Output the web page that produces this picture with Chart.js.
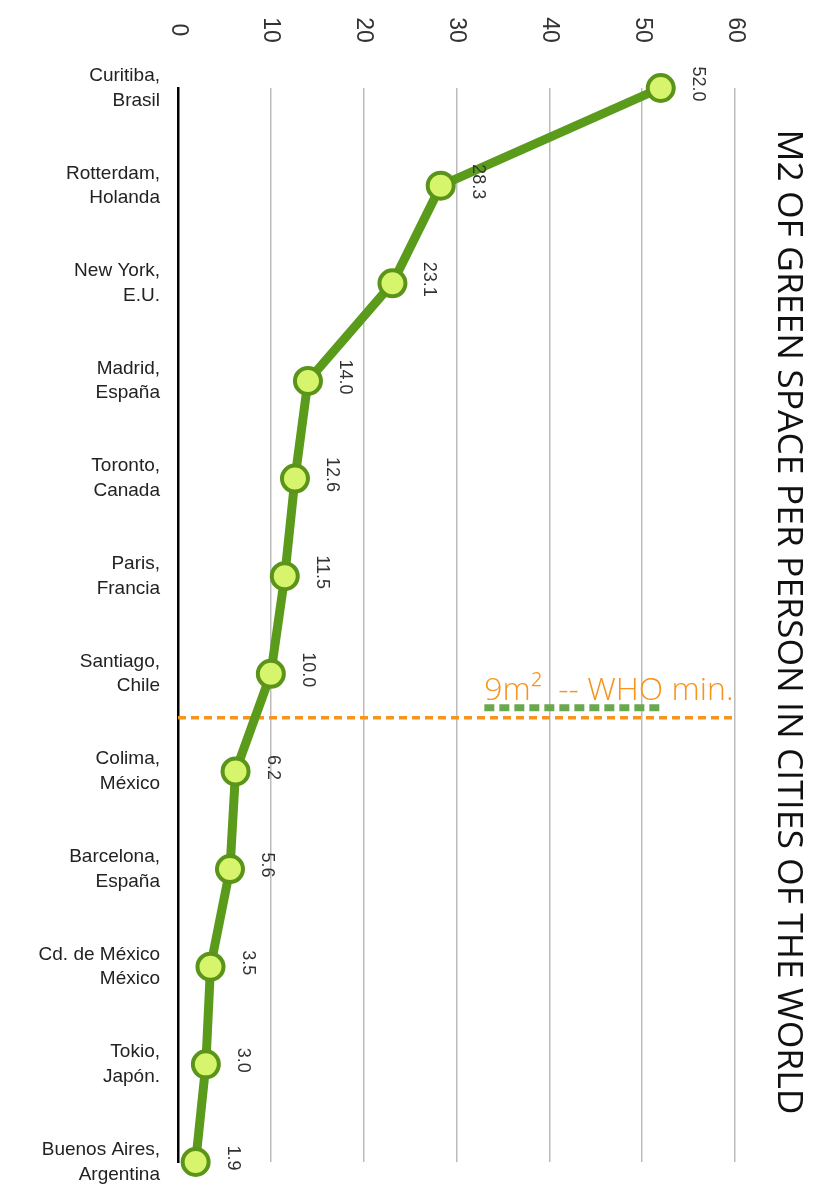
<!DOCTYPE html>
<html>
<head>
<meta charset="utf-8">
<script src="https://cdn.jsdelivr.net/npm/chart.js@4.4.1/dist/chart.umd.min.js"></script>
<style>
  html, body { margin: 0; padding: 0; background: #ffffff; }
  #chart_wrapper { width: 813px; height: 1195px; }
</style>
</head>
<body>
<div id="chart_wrapper"><canvas id="myChart" width="813" height="1195"></canvas></div>
<script>
// データ
let cities = [
  ["Curitiba,", "Brasil"],
  ["Rotterdam,", "Holanda"],
  ["New York,", "E.U."],
  ["Madrid,", "España"],
  ["Toronto,", "Canada"],
  ["Paris,", "Francia"],
  ["Santiago,", "Chile"],
  ["Colima,", "México"],
  ["Barcelona,", "España"],
  ["Cd. de México", "México"],
  ["Tokio,", "Japón."],
  ["Buenos Aires,", "Argentina"],
];
let greenSpace = [52.0, 28.3, 23.1, 14.0, 12.6, 11.5, 10.0, 6.2, 5.6, 3.5, 3.0, 1.9];
let valueTicks = [0, 10, 20, 30, 40, 50, 60];
let chartTitle = "M2 OF GREEN SPACE PER PERSON IN CITIES OF THE WORLD";
let whoText = "9m\u00B2  -- WHO min.";
let whoPosition = 6.45; // Santiago と Colima の間

let lineColor = "#5b9b1b";
let pointFill = "#d6f46c";
let orange = "#f7941d";

// 90度回転した文字を描く
function rotatedText(ctx, text, x, y, font, color) {
  ctx.save();
  ctx.translate(x, y);
  ctx.rotate(Math.PI / 2);
  ctx.font = font;
  ctx.fillStyle = color;
  ctx.textAlign = "center";
  ctx.textBaseline = "middle";
  ctx.fillText(text, 0, 0);
  ctx.restore();
}

// WHO 最低ライン
const whoLinePlugin = {
  id: "whoLine",
  beforeDatasetsDraw(chart) {
    const ctx = chart.ctx;
    const xs = chart.scales.x;
    const ys = chart.scales.y;
    const area = chart.chartArea;
    const y = ys.getPixelForValue(whoPosition);
    ctx.save();
    ctx.strokeStyle = orange;
    ctx.lineWidth = 3.5;
    ctx.setLineDash([8, 5]);
    ctx.beginPath();
    ctx.moveTo(area.left, y);
    ctx.lineTo(area.right, y);
    ctx.stroke();

    ctx.strokeStyle = "#6aa84f";
    ctx.lineWidth = 7;
    ctx.setLineDash([10, 5]);
    ctx.beginPath();
    ctx.moveTo(xs.getPixelForValue(33), y - 10);
    ctx.lineTo(xs.getPixelForValue(52), y - 10);
    ctx.stroke();

    ctx.setLineDash([]);
    ctx.font = "300 32px 'Open Sans'";
    ctx.fillStyle = orange;
    ctx.textAlign = "left";
    ctx.textBaseline = "alphabetic";
    ctx.fillText(whoText, xs.getPixelForValue(33), y - 18);
    ctx.restore();
  },
};

// 回転ラベル（目盛り・値・タイトル）
const sideTextPlugin = {
  id: "sideText",
  afterDraw(chart) {
    const ctx = chart.ctx;
    const xs = chart.scales.x;
    xs.ticks.forEach((t) => {
      rotatedText(ctx, String(t.value), xs.getPixelForValue(t.value), 30, "23px 'Liberation Sans'", "#333333");
    });
    const meta = chart.getDatasetMeta(0);
    meta.data.forEach((pt, i) => {
      rotatedText(ctx, greenSpace[i].toFixed(1), pt.x + 37, pt.y - 4, "18px 'Liberation Sans'", "#333333");
    });
    rotatedText(ctx, chartTitle, 788, 622, "35.5px 'Open Sans'", "#111111");
  },
};

let config = {
  type: "line",
  data: {
    labels: cities,
    datasets: [
      {
        data: greenSpace,
        borderColor: lineColor,
        borderWidth: 9,
        pointRadius: 13,
        pointHoverRadius: 13,
        pointBackgroundColor: pointFill,
        pointBorderColor: "#5a9418",
        pointBorderWidth: 4,
        tension: 0,
        fill: false,
        clip: false,
      },
    ],
  },
  options: {
    indexAxis: "y",
    responsive: false,
    animation: false,
    layout: {
      padding: { top: 0, right: 78, bottom: 33, left: 0 },
    },
    plugins: {
      legend: { display: false },
      tooltip: { enabled: false },
    },
    scales: {
      x: {
        type: "linear",
        position: "top",
        min: 0,
        max: 60,
        afterBuildTicks: (scale) => {
          scale.ticks = valueTicks.map((v) => ({ value: v }));
        },
        afterFit: (scale) => {
          scale.height = 88;
          scale.paddingLeft = 0;
          scale.paddingRight = 0;
        },
        grid: {
          display: true,
          color: "#bbbbbb",
          lineWidth: 1.5,
          drawTicks: false,
        },
        border: { display: false },
        ticks: { display: false },
      },
      y: {
        type: "category",
        offset: false,
        afterFit: (scale) => {
          scale.width = 178;
          scale.paddingTop = 0;
          scale.paddingBottom = 0;
        },
        grid: { display: false, drawTicks: false },
        border: { display: true, color: "#000000", width: 2.5 },
        ticks: {
          autoSkip: false,
          padding: 18,
          color: "#222222",
          font: { family: "'Liberation Sans'", size: 19, lineHeight: 1.3 },
        },
      },
    },
  },
  plugins: [whoLinePlugin, sideTextPlugin],
};

window.onload = function () {
  let ctx = document.getElementById("myChart").getContext("2d");
  window.myLine = new Chart(ctx, config);
};
</script>
</body>
</html>
